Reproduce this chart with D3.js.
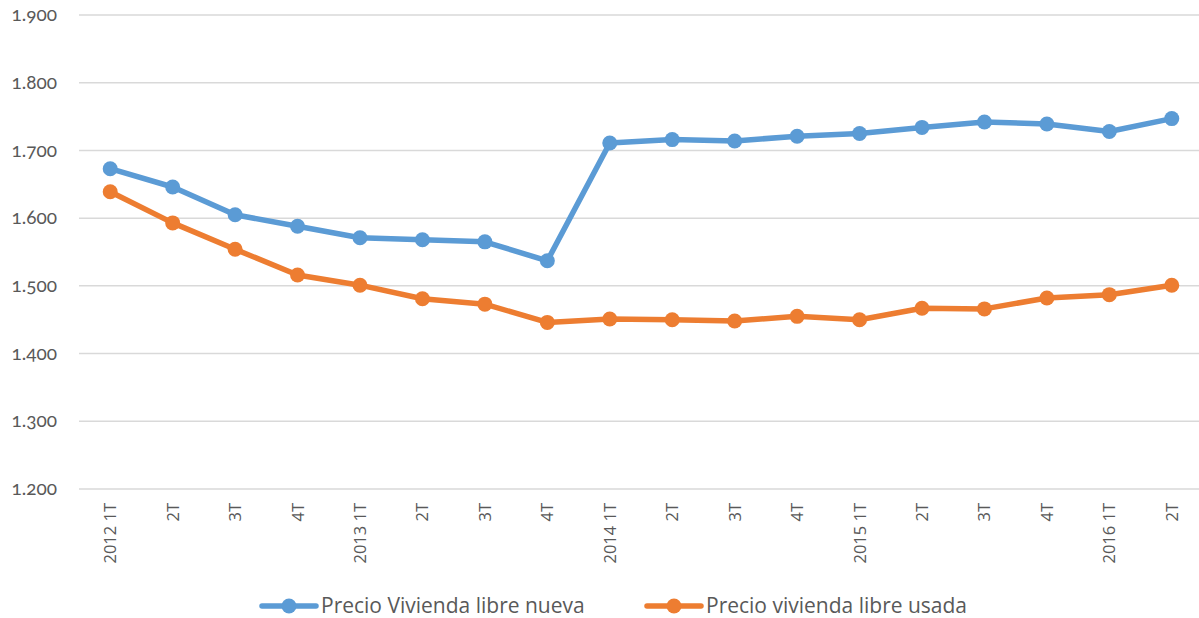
<!DOCTYPE html>
<html><head><meta charset="utf-8">
<script src="https://cdn.jsdelivr.net/npm/d3@7"></script>
<style>
body{margin:0;background:#fff;}
svg{display:block;font-family:"Open Sans",Lato,sans-serif;}
.ytick{font-family:Lato,"Open Sans",sans-serif;font-variant-numeric:oldstyle-nums;font-feature-settings:"onum" 1;}
</style></head><body>
<svg id="c" width="1199" height="618"></svg>
<script>
const categories = ["2012 1T","2T","3T","4T","2013 1T","2T","3T","4T","2014 1T","2T","3T","4T","2015 1T","2T","3T","4T","2016 1T","2T"];
const seriesNames = ["Precio Vivienda libre nueva","Precio vivienda libre usada"];
const nueva = [1673,1646,1605,1588,1571,1568,1565,1537,1711,1716,1714,1721,1725,1734,1742,1739,1728,1747];
const usada = [1639,1593,1554,1516,1501,1481,1473,1446,1451,1450,1448,1455,1450,1467,1466,1482,1487,1501];
const yTicks = [1200,1300,1400,1500,1600,1700,1800,1900];
const colors = ["#5b9bd5","#ed7d31"];

const svg = d3.select("#c");
const x = d3.scaleBand().domain(d3.range(categories.length)).range([79,1203]).padding(0);
const y = d3.scaleLinear().domain([1200,1900]).range([489,15]);
const fmt = d => d3.format(",")(d).replace(/,/g,".");

svg.append("g").selectAll("line").data(yTicks).join("line")
  .attr("x1",79).attr("x2",1199).attr("y1",d=>y(d)).attr("y2",d=>y(d))
  .attr("stroke","#d9d9d9").attr("stroke-width",1.5);
svg.append("g").selectAll("text").data(yTicks).join("text")
  .attr("class","ytick").attr("x",57).attr("y",d=>y(d)).attr("dy","0.32em")
  .attr("text-anchor","end").attr("font-size",19).attr("fill","#595959").text(fmt);

svg.append("g").selectAll("text").data(categories).join("text")
  .attr("transform",(d,i)=>`translate(${x(i)+x.bandwidth()/2+6},503) rotate(-90)`)
  .attr("text-anchor","end").attr("font-size",16.5).attr("fill","#595959").text(d=>d);

const cx = i => x(i)+x.bandwidth()/2;
[nueva,usada].forEach((s,k)=>{
  const line = d3.line().x((d,i)=>cx(i)).y(d=>y(d));
  svg.append("path").datum(s).attr("d",line).attr("fill","none")
    .attr("stroke",colors[k]).attr("stroke-width",5.5).attr("stroke-linejoin","round");
  svg.append("g").selectAll("circle").data(s).join("circle")
    .attr("cx",(d,i)=>cx(i)).attr("cy",d=>y(d)).attr("r",7.5).attr("fill",colors[k]);
});

const legX = [262,647];
seriesNames.forEach((n,k)=>{
  const g = svg.append("g").attr("transform",`translate(${legX[k]},606)`);
  g.append("line").attr("x1",0).attr("x2",54).attr("stroke",colors[k]).attr("stroke-width",5.5).attr("stroke-linecap","round");
  g.append("circle").attr("cx",27).attr("r",7.5).attr("fill",colors[k]);
  g.append("text").attr("x",59).attr("dy","0.35em").attr("font-size",21).attr("fill","#595959").text(n);
});
</script></body></html>
